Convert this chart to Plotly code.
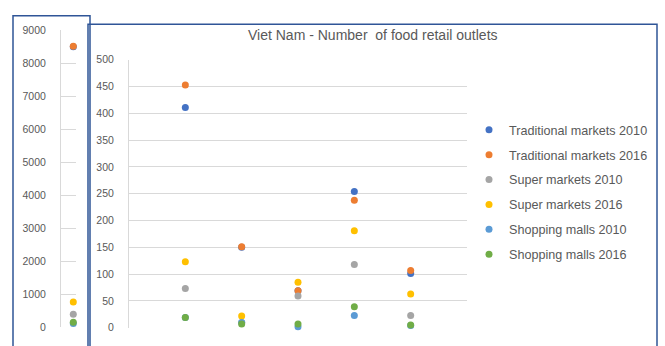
import plotly.graph_objects as go

W, H = 665, 346

series_names = [
    "Traditional markets 2010",
    "Traditional markets 2016",
    "Super markets 2010",
    "Super markets 2016",
    "Shopping malls 2010",
    "Shopping malls 2016",
]
series_colors = ["#4472C4", "#ED7D31", "#A5A5A5", "#FFC000", "#5B9BD5", "#70AD47"]

# Nationwide totals (narrow panel on the left)
national_totals = [8500, 8510, 400, 770, 120, 160]

# Breakdown over five groups (main panel)
groups = [1, 2, 3, 4, 5]
trad_2010 = [411, 150, 69, 254, 101]
trad_2016 = [453, 151, 69, 238, 107]
super_2010 = [73, 10, 59, 118, 23]
super_2016 = [123, 22, 85, 181, 63]
mall_2010 = [19, 10, 2, 23, 4]
mall_2016 = [19, 7, 7, 39, 5]
group_values = [trad_2010, trad_2016, super_2010, super_2016, mall_2010, mall_2016]

left_ticks = list(range(0, 9001, 1000))
main_ticks = list(range(0, 501, 50))


def px_x(p):
    return p / W


def px_y(p):
    return 1 - p / H


TEXT = "#595959"
GRID = "#D9D9D9"
FONT = "Liberation Sans"
FRAME = "#2F5597"

fig = go.Figure()

for name, color, total in zip(series_names, series_colors, national_totals):
    fig.add_trace(go.Scatter(
        x=[0], y=[total], mode="markers", name=name,
        marker=dict(color=color, size=7),
        xaxis="x", yaxis="y", showlegend=False, cliponaxis=False,
        hoverinfo="y",
    ))

for i, (name, color, vals) in enumerate(zip(series_names, series_colors, group_values)):
    fig.add_trace(go.Scatter(
        x=groups, y=vals, mode="markers", name=name,
        marker=dict(color=color, size=7),
        xaxis="x2", yaxis="y2", cliponaxis=False,
        legendgroup=f"g{i}",
    ))

fig.update_layout(
    width=W, height=H,
    margin=dict(l=0, r=0, t=0, b=0),
    paper_bgcolor="white", plot_bgcolor="white",
    font=dict(family=FONT, color=TEXT, size=10),
    xaxis=dict(domain=[px_x(61), px_x(76)], range=[-0.82, 0.18],
               showticklabels=False, showgrid=False, zeroline=False,
               ticks="", anchor="y"),
    yaxis=dict(domain=[px_y(333), px_y(25)], range=[0, 9000],
               tickvals=left_ticks, ticktext=[str(t) for t in left_ticks],
               showgrid=True, gridcolor=GRID, gridwidth=1,
               showline=True, linecolor=GRID, zeroline=False,
               ticks="", ticklabelstandoff=12, anchor="x",
               tickfont=dict(size=10.5, color=TEXT)),
    xaxis2=dict(domain=[px_x(129), px_x(467)], range=[0, 6],
                showticklabels=False, showgrid=False, zeroline=False,
                ticks="", anchor="y2"),
    yaxis2=dict(domain=[px_y(333.3), px_y(55.7)], range=[0, 500],
                tickvals=main_ticks, ticktext=[str(t) for t in main_ticks],
                showgrid=True, gridcolor=GRID, gridwidth=1,
                showline=True, linecolor=GRID, zeroline=False,
                ticks="", ticklabelstandoff=12, anchor="x2",
                tickfont=dict(size=10.5, color=TEXT)),
    legend=dict(x=px_x(469), y=px_y(113), xanchor="left", yanchor="top",
                traceorder="grouped", tracegroupgap=5.5,
                font=dict(family=FONT, size=12.6, color=TEXT),
                bgcolor="rgba(0,0,0,0)", itemwidth=30),
    annotations=[dict(
        text="Viet Nam - Number  of food retail outlets",
        x=px_x(373), y=px_y(30), xref="paper", yref="paper",
        xanchor="center", yanchor="middle", showarrow=False,
        font=dict(family=FONT, size=14, color=TEXT),
    )],
    shapes=[
        dict(type="rect", xref="paper", yref="paper",
             x0=px_x(13), x1=px_x(90), y0=px_y(360), y1=px_y(10),
             line=dict(color=FRAME, width=1.5)),
        dict(type="rect", xref="paper", yref="paper",
             x0=px_x(88), x1=px_x(657), y0=px_y(360), y1=px_y(19),
             line=dict(color=FRAME, width=1.5)),
    ],
)

fig.write_html("out.html")
